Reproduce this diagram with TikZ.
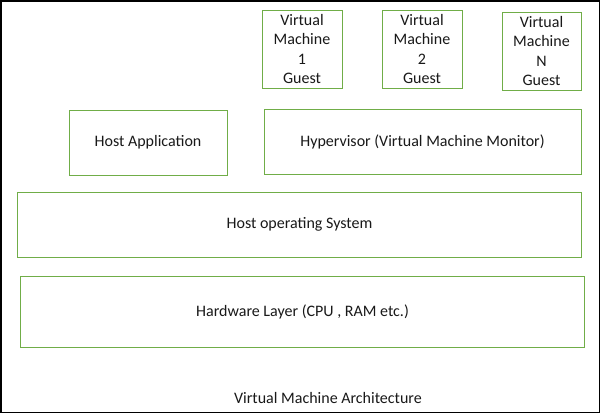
\documentclass[tikz,border=0pt]{standalone}
\usepackage{fontspec}
\setmainfont{Carlito}
\definecolor{boxgreen}{HTML}{70AD47}
\begin{document}
\begin{tikzpicture}[x=1bp,y=-1bp,
  layer/.style={draw=boxgreen,line width=1bp,inner sep=0pt,align=center,
    font=\fontsize{16bp}{19.5bp}\selectfont,text=black!90},
  caption/.style={font=\fontsize{16bp}{19bp}\selectfont,text=black!90}]
\useasboundingbox (0,0) rectangle (600,413);
\fill[white] (0,0) rectangle (600,413);
\draw[black,line width=1.5bp] (0.75,0.75) rectangle (599.25,412.25);
\node[layer,minimum width=80bp,minimum height=78bp] (vm1) at (302,49) {Virtual\\Machine\\1\\Guest};
\node[layer,minimum width=80bp,minimum height=78bp] (vm2) at (422,49) {Virtual\\Machine\\2\\Guest};
\node[layer,minimum width=79bp,minimum height=78bp] (vmn) at (541.5,51) {Virtual\\Machine\\N\\Guest};
\node[layer,minimum width=158bp,minimum height=65bp] (app) at (148,142.5) {Host Application};
\node[layer,minimum width=317bp,minimum height=65bp] (hyp) at (422.5,141.5) {Hypervisor (Virtual Machine Monitor)};
\node[layer,minimum width=563bp,minimum height=65bp] (os) at (299.5,224.5) {Host operating System};
\node[layer,minimum width=563bp,minimum height=71bp] (hw) at (302.5,311.5) {Hardware Layer (CPU , RAM etc.)};
\node[caption] (cap) at (328,398) {Virtual Machine Architecture};
\end{tikzpicture}
\end{document}
